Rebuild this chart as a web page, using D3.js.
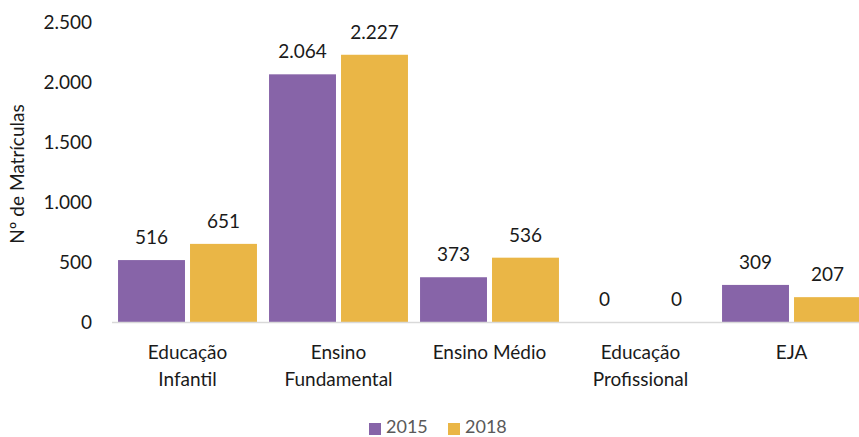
<!DOCTYPE html>
<html>
<head>
<meta charset="utf-8">
<script src="https://cdn.jsdelivr.net/npm/d3@7"></script>
<style>
  body { margin: 0; background: #fff; }
  text { font-family: Lato, "Open Sans", sans-serif; fill: #1a1a1a; }
</style>
</head>
<body>
<div id="chart"></div>
<script>
const categories = [['Educação', 'Infantil'], ['Ensino', 'Fundamental'], ['Ensino Médio'], ['Educação', 'Profissional'], ['EJA']];
const seriesNames = ['2015', '2018'];
const values2015 = [516, 2064, 373, 0, 309];
const values2018 = [651, 2227, 536, 0, 207];
const yTicks = [0, 500, 1000, 1500, 2000, 2500];
const colors = ['#8764a8', '#eab646'];

const width = 859;
const height = 437;

const ptBR = d3.formatLocale({ decimal: ',', thousands: '.', grouping: [3], currency: ['R$', ''] });
const fmt = ptBR.format(',d');

const svg = d3.select('#chart')
  .append('svg')
  .attr('width', width)
  .attr('height', height);

const keys = categories.map(c => c.join(' '));
const data = keys.map((k, i) => ({ key: k, lines: categories[i], vals: [values2015[i], values2018[i]] }));

const x0 = d3.scaleBand()
  .domain(keys)
  .range([112, 867])
  .paddingInner(0.08)
  .paddingOuter(0.04);

const x1 = d3.scaleBand()
  .domain(seriesNames)
  .range([0, x0.bandwidth()])
  .paddingInner(0.07);

const y = d3.scaleLinear()
  .domain([0, 2500])
  .range([322, 22]);

// y tick labels (no axis line)
svg.append('g')
  .selectAll('text')
  .data(yTicks)
  .join('text')
  .attr('x', 92)
  .attr('y', d => y(d))
  .attr('dy', '0.36em')
  .attr('text-anchor', 'end')
  .style('font-size', '19px')
  .text(d => fmt(d));

svg.append('text')
  .attr('transform', `translate(24,${y(1250) + 2}) rotate(-90)`)
  .attr('text-anchor', 'middle')
  .style('font-size', '19px')
  .text('Nº de Matrículas');

// bars
const groups = svg.append('g')
  .selectAll('g')
  .data(data)
  .join('g')
  .attr('transform', d => `translate(${x0(d.key)},0)`);

groups.selectAll('rect')
  .data(d => d.vals.map((v, j) => ({ s: seriesNames[j], v, j })))
  .join('rect')
  .attr('x', d => x1(d.s))
  .attr('y', d => y(d.v))
  .attr('width', x1.bandwidth())
  .attr('height', d => y(0) - y(d.v))
  .attr('fill', d => colors[d.j]);

groups.selectAll('text.val')
  .data(d => d.vals.map((v, j) => ({ s: seriesNames[j], v, j })))
  .join('text')
  .attr('class', 'val')
  .attr('x', d => x1(d.s) + x1.bandwidth() / 2)
  .attr('y', d => y(d.v) - 16)
  .attr('text-anchor', 'middle')
  .style('font-size', '19px')
  .text(d => fmt(d.v));

// baseline
svg.append('line')
  .attr('x1', 112)
  .attr('x2', width)
  .attr('y1', y(0) + 0.5)
  .attr('y2', y(0) + 0.5)
  .attr('stroke', '#d9d9d9')
  .attr('stroke-width', 1.5);

// category labels
const catLabels = svg.append('g')
  .selectAll('text')
  .data(data)
  .join('text')
  .attr('x', d => x0(d.key) + x0.bandwidth() / 2)
  .attr('y', 359)
  .attr('text-anchor', 'middle')
  .style('font-size', '19px');

catLabels.selectAll('tspan')
  .data(d => d.lines)
  .join('tspan')
  .attr('x', function () { return d3.select(this.parentNode).attr('x'); })
  .attr('dy', (d, i) => i === 0 ? 0 : 27)
  .text(d => d);

// legend
const legend = svg.append('g');
const legendX = [369, 448];
seriesNames.forEach((name, i) => {
  legend.append('rect')
    .attr('x', legendX[i])
    .attr('y', 423)
    .attr('width', 12)
    .attr('height', 12)
    .attr('fill', colors[i]);
  legend.append('text')
    .attr('x', legendX[i] + 17)
    .attr('y', 433)
    .style('font-size', '18px')
    .style('fill', '#595959')
    .text(name);
});
</script>
</body>
</html>
